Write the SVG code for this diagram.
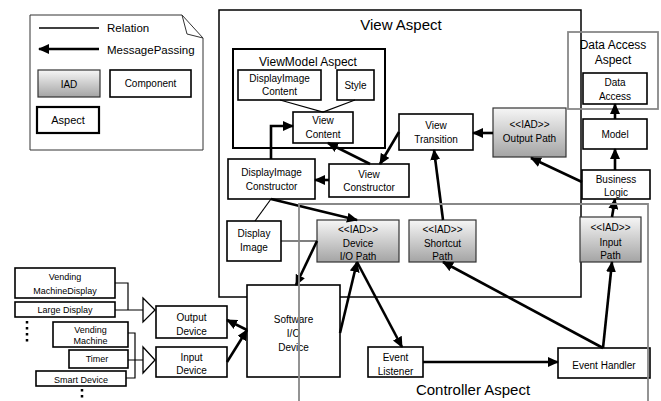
<svg xmlns="http://www.w3.org/2000/svg" width="661" height="401" viewBox="0 0 661 401">
<style>
text{font-family:"Liberation Sans",Arial,sans-serif;fill:#000;text-anchor:middle}
.t{font-size:10px}
.s{font-size:9px}
.box{fill:#fff;stroke:#000;stroke-width:1.6}
.iad{fill:url(#g);stroke:#333;stroke-width:1.2}
.asp{fill:none;stroke:#000;stroke-width:1.5}
.gasp{fill:none;stroke:#888;stroke-width:1.8}
.rel{fill:none;stroke:#000;stroke-width:1.2}
.msg{fill:none;stroke:#000;stroke-width:2.6;marker-end:url(#ah)}
</style>
<defs>
<linearGradient id="g" x1="0" y1="0" x2="0" y2="1">
<stop offset="0" stop-color="#f6f6f6"/>
<stop offset="1" stop-color="#a4a4a4"/>
</linearGradient>
<marker id="ah" markerUnits="userSpaceOnUse" markerWidth="11" markerHeight="10" refX="10" refY="5" orient="auto">
<path d="M0,0 L11,5 L0,10 z" fill="#000"/>
</marker>
</defs>
<rect width="661" height="401" fill="#fff"/>

<g id="legend">
<path d="M30,15 H182 L203,38 V150 H30 Z" fill="#fff" stroke="#333" stroke-width="1"/>
<path d="M182,15 L187,34 L203,38" fill="none" stroke="#333" stroke-width="1"/>
<line x1="39" y1="28" x2="99" y2="28" stroke="#000" stroke-width="1.3"/>
<text x="107" y="32" style="font-size:11.5px;text-anchor:start">Relation</text>
<line x1="99" y1="49" x2="39" y2="49" class="msg"/>
<text x="107" y="54" style="font-size:11.5px;text-anchor:start">MessagePassing</text>
<rect x="38" y="70" width="62" height="27" class="iad"/>
<text x="69" y="88" class="t">IAD</text>
<rect x="110" y="70" width="81" height="27" class="box"/>
<text x="150.5" y="87" class="t">Component</text>
<rect x="37" y="107" width="62" height="26" fill="#fff" stroke="#000" stroke-width="2.2"/>
<text x="68" y="124" style="font-size:11px">Aspect</text>
</g>

<g id="view-aspect">
<rect x="219" y="10" width="362" height="287" class="asp"/>
<text x="401" y="30" style="font-size:15px">View Aspect</text>
</g>

<g id="viewmodel-aspect">
<rect x="233" y="49" width="152" height="99" fill="none" stroke="#000" stroke-width="2"/>
<text x="308" y="66" style="font-size:12px">ViewModel Aspect</text>
</g>

<g id="data-access-aspect">
<rect x="568" y="32" width="90" height="77" class="gasp"/>
<text x="613" y="49" style="font-size:12px">Data Access</text>
<text x="613" y="64" style="font-size:12px">Aspect</text>
</g>

<g id="displayimage-content">
<rect x="238" y="70" width="83" height="30" class="box"/>
<text x="279.5" y="82" class="t">DisplayImage</text>
<text x="279.5" y="95" class="t">Content</text>
</g>
<g id="style">
<rect x="337" y="70" width="37" height="30" class="box"/>
<text x="355.5" y="89" class="t">Style</text>
</g>
<g id="view-content">
<rect x="293" y="112" width="60" height="31" class="box"/>
<text x="323" y="124" class="t">View</text>
<text x="323" y="138" class="t">Content</text>
</g>
<g id="view-transition">
<rect x="399" y="114" width="74" height="36" class="box"/>
<text x="436" y="129" class="t">View</text>
<text x="436" y="143" class="t">Transition</text>
</g>
<g id="output-path">
<rect x="493" y="108" width="73" height="49" class="iad"/>
<text x="529.5" y="128" class="t">&lt;&lt;IAD&gt;&gt;</text>
<text x="529.5" y="142" class="t">Output Path</text>
</g>
<g id="view-constructor">
<rect x="329" y="164" width="80" height="33" class="box"/>
<text x="369" y="178" class="t">View</text>
<text x="369" y="191" class="t">Constructor</text>
</g>
<g id="displayimage-constructor">
<rect x="228" y="159" width="87" height="40" class="box"/>
<text x="271.5" y="176" class="t">DisplayImage</text>
<text x="271.5" y="190" class="t">Constructor</text>
</g>
<g id="data-access">
<rect x="583" y="73" width="64" height="31" class="box"/>
<text x="615" y="86" class="t">Data</text>
<text x="615" y="100" class="t">Access</text>
</g>
<g id="model">
<rect x="583" y="119" width="64" height="30" class="box"/>
<text x="615" y="138" class="t">Model</text>
</g>
<g id="business-logic">
<rect x="582" y="170" width="68" height="29" class="box"/>
<text x="616" y="183" class="t">Business</text>
<text x="616" y="196" class="t">Logic</text>
</g>
<g id="display-image">
<rect x="227" y="221" width="54" height="40" class="box"/>
<text x="254" y="237" class="t">Display</text>
<text x="254" y="251" class="t">Image</text>
</g>
<g id="device-io-path">
<rect x="317" y="220" width="82" height="42" class="iad"/>
<text x="358" y="233" class="t">&lt;&lt;IAD&gt;&gt;</text>
<text x="358" y="247" class="t">Device</text>
<text x="358" y="260" class="t">I/O Path</text>
</g>
<g id="shortcut-path">
<rect x="409" y="220" width="67" height="42" class="iad"/>
<text x="442.5" y="233" class="t">&lt;&lt;IAD&gt;&gt;</text>
<text x="442.5" y="247" class="t">Shortcut</text>
<text x="442.5" y="260" class="t">Path</text>
</g>
<g id="input-path">
<rect x="580" y="217" width="61" height="45" class="iad"/>
<text x="610.5" y="231" class="t">&lt;&lt;IAD&gt;&gt;</text>
<text x="610.5" y="246" class="t">Input</text>
<text x="610.5" y="259" class="t">Path</text>
</g>
<g id="software-io-device">
<rect x="247" y="285" width="93" height="92" class="box"/>
<text x="293.5" y="323" class="t">Software</text>
<text x="293.5" y="337" class="t">I/O</text>
<text x="293.5" y="351" class="t">Device</text>
</g>
<g id="output-device">
<rect x="156" y="306" width="71" height="32" class="box"/>
<text x="191.5" y="321" class="t">Output</text>
<text x="191.5" y="335" class="t">Device</text>
</g>
<g id="input-device">
<rect x="156" y="347" width="71" height="30" class="box"/>
<text x="191.5" y="361" class="t">Input</text>
<text x="191.5" y="374" class="t">Device</text>
</g>
<g id="event-listener">
<rect x="368" y="347" width="55" height="30" class="box"/>
<text x="395.5" y="361" class="t">Event</text>
<text x="395.5" y="375" class="t">Listener</text>
</g>
<g id="event-handler">
<rect x="558" y="348" width="92" height="30" class="box"/>
<text x="604" y="369" class="t">Event Handler</text>
</g>

<g id="vending-machine-display">
<rect x="15" y="268" width="100" height="30" class="box"/>
<text x="65" y="280" class="s">Vending</text>
<text x="65" y="294" class="s">MachineDisplay</text>
</g>
<g id="large-display">
<rect x="15" y="302" width="100" height="15" class="box"/>
<text x="65" y="313" class="s">Large Display</text>
</g>
<g id="vending-machine">
<rect x="53" y="322" width="75" height="25" class="box"/>
<text x="90.5" y="333" class="s">Vending</text>
<text x="90.5" y="344" class="s">Machine</text>
</g>
<g id="timer">
<rect x="69" y="350" width="59" height="18" class="box"/>
<text x="97" y="362" class="s">Timer</text>
</g>
<g id="smart-device">
<rect x="36" y="371" width="90" height="15" class="box"/>
<text x="81" y="383" class="s">Smart Device</text>
</g>
<g id="ellipses">
<line x1="27" y1="321" x2="27" y2="343" stroke="#000" stroke-width="2.5" stroke-dasharray="2.5,3.5"/>
<line x1="82" y1="389" x2="82" y2="399" stroke="#000" stroke-width="2.5" stroke-dasharray="2.5,3.5"/>
</g>

<g id="connectors">
<path d="M280,100 L323,112 L355,100" class="rel"/>
<line x1="271" y1="199" x2="255" y2="221" class="rel"/>
<line x1="281" y1="241" x2="317" y2="241" class="rel"/>
<path d="M115,283 H128 V310 M115,310 H143" class="rel"/>
<path d="M143,298 L155,310 L143,322 Z" fill="#fff" stroke="#000" stroke-width="1.3"/>
<path d="M128,333 H135 V378 H126 M128,360 H143" class="rel"/>
<path d="M143,347 L155,360 L143,373 Z" fill="#fff" stroke="#000" stroke-width="1.3"/>
<path d="M271,159 V126 H293" class="msg"/>
<line x1="370" y1="164" x2="328" y2="143" class="msg"/>
<line x1="329" y1="180" x2="315" y2="180" class="msg"/>
<line x1="399" y1="132" x2="380" y2="164" class="msg"/>
<line x1="493" y1="133" x2="473" y2="133" class="msg"/>
<line x1="582" y1="182" x2="531" y2="158" class="msg"/>
<line x1="615" y1="170" x2="615" y2="149" class="msg"/>
<line x1="615" y1="119" x2="615" y2="104" class="msg"/>
<line x1="612" y1="217" x2="615" y2="199" class="msg"/>
<line x1="443" y1="220" x2="434" y2="150" class="msg"/>
<line x1="271" y1="199" x2="357" y2="220" class="msg"/>
<line x1="317" y1="241" x2="296" y2="285" class="msg"/>
<line x1="340" y1="333" x2="357" y2="262" class="msg"/>
<line x1="357" y1="262" x2="402" y2="347" class="msg"/>
<line x1="423" y1="362" x2="558" y2="362" class="msg"/>
<line x1="603" y1="348" x2="612" y2="262" class="msg"/>
<line x1="603" y1="348" x2="443" y2="262" class="msg"/>
<line x1="247" y1="330" x2="227" y2="320" class="msg"/>
<line x1="227" y1="362" x2="247" y2="330" class="msg"/>
</g>

<g id="controller-aspect">
<path d="M299,402 V204 H648 V402" class="gasp"/>
<text x="473" y="395" style="font-size:15px">Controller Aspect</text>
</g>
</svg>
